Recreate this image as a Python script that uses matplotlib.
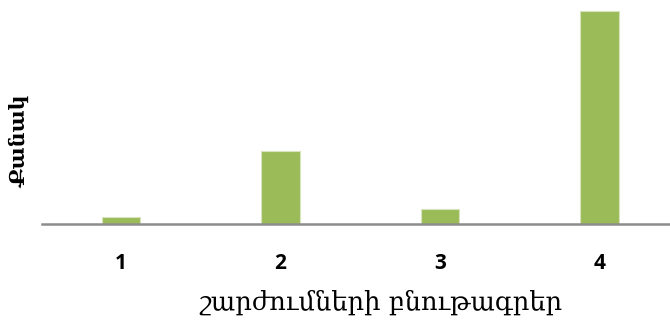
import matplotlib
matplotlib.use("Agg")
import matplotlib.pyplot as plt

categories = ["1", "2", "3", "4"]
values = [1, 10, 2, 29]

fig = plt.figure(figsize=(6.70, 3.21), dpi=100)
ax = fig.add_axes([42/670, 1 - 224/321, 628/670, 220/321])
x = list(range(len(categories)))
ax.bar(x, values, width=0.242, color="#9BBB59", edgecolor="#D7E4BD", linewidth=0.8)
ax.set_xlim(-0.495, 3.44)
ax.set_ylim(0, 30)
for s in ["top", "right", "left"]:
    ax.spines[s].set_visible(False)
ax.spines["bottom"].set_color("#8C8C8C")
ax.spines["bottom"].set_linewidth(1.8)
ax.set_yticks([])
ax.set_xticks(x)
ax.set_xticklabels(categories, fontsize=15, fontweight="bold", family=["Open Sans", "DejaVu Sans"])
ax.tick_params(axis="x", length=0, pad=21)
ax.set_xlabel("շարժումների բնութագրեր", fontsize=18.5, family=["DejaVu Serif"], labelpad=11)
ax.xaxis.label.set_x(0.54)
ax.set_ylabel("Քանակ", fontsize=15, family=["DejaVu Serif"], fontweight="bold")
ax.yaxis.set_label_coords(-0.018, 0.373)
fig.savefig("out.png", dpi=100)
